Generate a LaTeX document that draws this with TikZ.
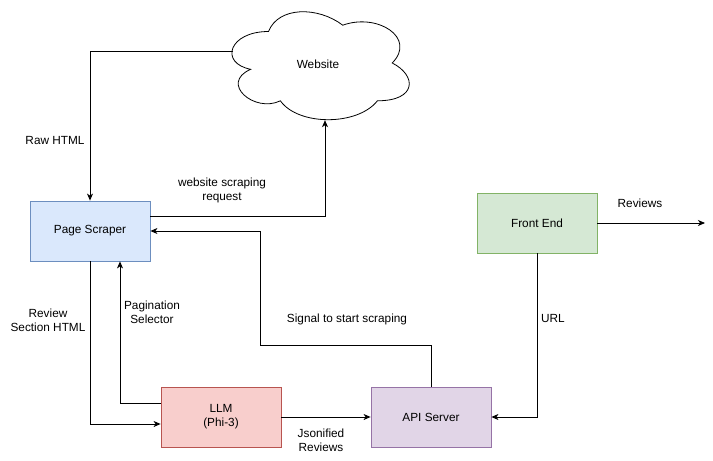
\documentclass[tikz,border=0pt]{standalone}
\usepackage{fontspec}
\setmainfont{Liberation Sans}
\usetikzlibrary{arrows.meta}
\definecolor{bluef}{HTML}{DAE8FC}\definecolor{blued}{HTML}{6C8EBF}
\definecolor{redf}{HTML}{F8CECC}\definecolor{redd}{HTML}{B85450}
\definecolor{purf}{HTML}{E1D5E7}\definecolor{purd}{HTML}{9673A6}
\definecolor{grnf}{HTML}{D5E8D4}\definecolor{grnd}{HTML}{82B366}
\tikzset{
  box/.style={draw, line width=0.8pt, minimum width=120pt, minimum height=60pt, inner sep=0pt, align=center, font=\fontsize{11.8}{14}\selectfont},
  conn/.style={line width=0.9pt, -{Stealth[length=7pt,width=6pt,inset=2pt]}},
  lbl/.style={font=\fontsize{11.8}{14}\selectfont, align=center, inner sep=0pt}
}
\begin{document}
\begin{tikzpicture}[x=1pt,y=-1pt]
\useasboundingbox (0,0) rectangle (713,461);
% cloud outline (draw.io cloud in box x=219, y=0, w=198, h=126)
\begin{scope}[xshift=219pt, x=198pt, y=-126pt]
\draw[line width=0.8pt, fill=white]
  (0.25,0.25) .. controls (0.05,0.25) and (0,0.5) .. (0.16,0.55)
  .. controls (0,0.66) and (0.18,0.9) .. (0.31,0.8)
  .. controls (0.4,1) and (0.7,1) .. (0.8,0.8)
  .. controls (1,0.8) and (1,0.6) .. (0.875,0.5)
  .. controls (1,0.3) and (0.8,0.1) .. (0.625,0.2)
  .. controls (0.5,0.05) and (0.3,0.05) .. (0.25,0.25) -- cycle;
\end{scope}
\node[minimum width=172pt, minimum height=108pt, inner sep=0pt, font=\fontsize{11.8}{14}\selectfont] (web) at (319,66) {};
\node[font=\fontsize{11.8}{14}\selectfont, inner sep=0pt] (webt) at (318,64) {Website};
\node[box, fill=bluef, draw=blued] (ps) at (90,231) {Page Scraper};
\node[box, fill=redf, draw=redd] (llm) at (221,417) {LLM\\(Phi-3)};
\node[box, fill=purf, draw=purd] (api) at (431,417) {API Server};
\node[box, fill=grnf, draw=grnd] (fe) at (537,223) {Front End};
\coordinate (out) at (705,223);

\draw[conn] (web.west |- 0,51) -| (ps.north);
\draw[conn] (ps.east |- 0,216) -| (web.south -| 325,0);
\draw[conn] (api.north) |- (260,345) |- (ps.east);
\draw[conn] (ps.south) |- (llm.west |- 0,424);
\draw[conn] (llm.west |- 0,403) -| (ps.south -| 120,0);
\draw[conn] (llm.east) -- (api.west);
\draw[conn] (fe.south) |- (api.east);
\draw[conn] (fe.east) -- (out);

\node[lbl] (l1) at (55,140) {Raw HTML};
\node[lbl] (l2) at (222,190) {website scraping\\request};
\node[lbl] (l3) at (347,319) {Signal to start scraping};
\node[lbl] (l4) at (48,320) {Review\\Section HTML};
\node[lbl] (l5) at (152,312) {Pagination\\Selector};
\node[lbl] (l6) at (321,440) {Jsonified\\Reviews};
\node[lbl] (l7) at (553,318) {URL};
\node[lbl] (l8) at (640,203) {Reviews};
\end{tikzpicture}
\end{document}
